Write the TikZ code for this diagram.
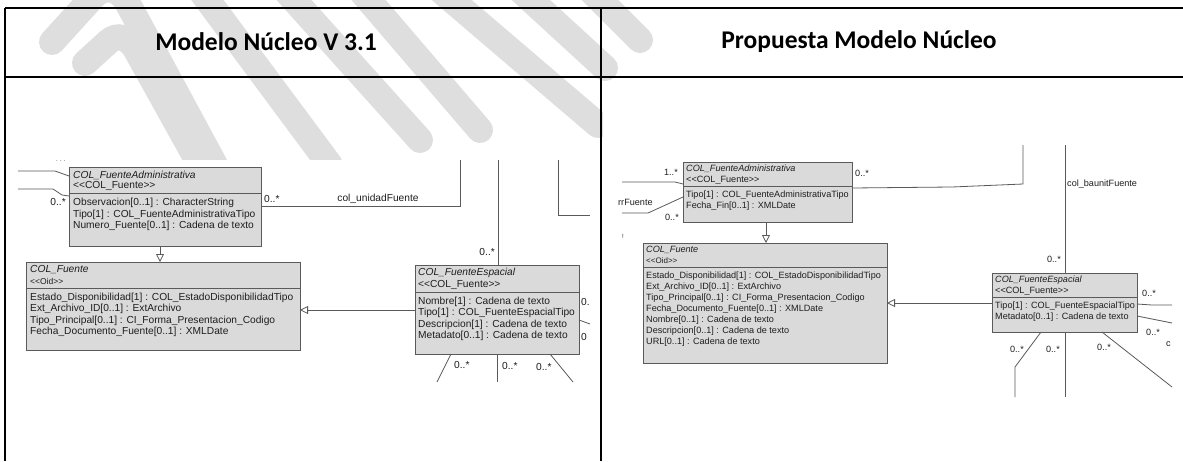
\documentclass[tikz,border=0pt]{standalone}
\usepackage{fontspec}
\setmainfont{Liberation Sans}
\newfontfamily\headfont{Carlito}
\usetikzlibrary{arrows.meta}

\definecolor{boxgray}{HTML}{DADADA}
\definecolor{edgegray}{HTML}{5A5A5A}
\definecolor{markgray}{HTML}{DEDEDE}
\definecolor{inkgray}{HTML}{1E1E1E}

% guillemet-free stereotype brackets
\newcommand{\stereo}[1]{\textless\kern0pt\textless #1\textgreater\kern0pt\textgreater}

\begin{document}
\begin{tikzpicture}[x=1pt, y=-1pt,
    classbox/.style={draw=edgegray, fill=boxgray, line width=0.9pt, anchor=north west, inner sep=0pt, outer sep=0pt},
    sepline/.style={draw=edgegray, line width=0.9pt},
    ltext/.style={font=\fontsize{10.2}{12}\selectfont, text=inkgray, anchor=west, inner sep=0pt},
    ltitle/.style={ltext, font=\fontsize{10.2}{12}\selectfont\itshape},
    rtext/.style={font=\fontsize{9.1}{11}\selectfont, text=inkgray, anchor=west, inner sep=0pt},
    rtitle/.style={rtext, font=\fontsize{9.1}{11}\selectfont\itshape},
    assoc/.style={draw=edgegray, line width=0.8pt},
    inherit/.style={assoc, -{Triangle[open, length=8pt, width=8pt]}},
    tableline/.style={line width=2.2pt, black},
  ]

    \useasboundingbox (0,0) rectangle (1183,461);

    % ==========================================
    % WATERMARK (behind the table)
    % ==========================================
    \begin{scope}[draw=markgray, line width=26pt, line cap=round]
        \draw (52,42) -- (92,-2) .. controls (105,-16) and (118,-12) .. (127,2) -- (215,165);
        \draw (85,63) -- (108,42) .. controls (118,33) and (128,38) .. (135,48) -- (200,165);
        \draw (200,-10) -- (330,165);
        \draw (285,-10) -- (420,140);
        \draw (360,-10) -- (480,130);
        \draw (440,-10) -- (598,125);
        \draw (520,-10) -- (605,68);
        \draw (590,-10) -- (640,40);
    \end{scope}

    % screenshots are opaque
    \fill[white] (8,160) rectangle (599,461);
    \fill[white] (603,90) rectangle (1183,461);

    % ==========================================
    % TABLE
    % ==========================================
    \draw[tableline] (5,8) -- (1183,8);
    \draw[tableline] (5,77) -- (1183,77);
    \draw[tableline] (5,8) -- (5,461);
    \draw[tableline] (601,8) -- (601,461);

    \node[font=\headfont\bfseries\fontsize{25.5}{30}\selectfont] (headL) at (266,42) {Modelo Núcleo V 3.1};
    \node[font=\headfont\bfseries\fontsize{25.5}{30}\selectfont] (headR) at (859,42) {Propuesta Modelo Núcleo};

    % ==========================================
    % LEFT: Modelo Nucleo V 3.1
    % ==========================================

    % COL_FuenteAdministrativa
    \node[classbox, minimum width=192, minimum height=79] (adminL) at (69,167) {};
    \draw[sepline] (adminL.west |- 0,193) -- (adminL.east |- 0,193);
    \node[ltitle] (adminLa) at (73,175) {COL\_FuenteAdministrativa};
    \node[ltext] (adminLb) at (73,186) {\stereo{COL\_Fuente}};
    \node[ltext] (adminLc) at (73,203) {Observacion[0..1] : CharacterString};
    \node[ltext] (adminLd) at (73,214.5) {Tipo[1] : COL\_FuenteAdministrativaTipo};
    \node[ltext] (adminLe) at (73,226) {Numero\_Fuente[0..1] : Cadena de texto};

    % COL_Fuente
    \node[classbox, minimum width=274, minimum height=88] (fuenteL) at (26,262) {};
    \draw[sepline] (fuenteL.west |- 0,288) -- (fuenteL.east |- 0,288);
    \node[ltitle] (fuenteLa) at (30,270) {COL\_Fuente};
    \node[ltext, font=\fontsize{8.5}{10}\selectfont] (fuenteLb) at (30,281) {\stereo{Oid}};
    \node[ltext] (fuenteLc) at (30,297.5) {Estado\_Disponibilidad[1] : COL\_EstadoDisponibilidadTipo};
    \node[ltext] (fuenteLd) at (30,309) {Ext\_Archivo\_ID[0..1] : ExtArchivo};
    \node[ltext] (fuenteLe) at (30,320.5) {Tipo\_Principal[0..1] : CI\_Forma\_Presentacion\_Codigo};
    \node[ltext] (fuenteLf) at (30,332) {Fecha\_Documento\_Fuente[0..1] : XMLDate};

    % COL_FuenteEspacial
    \node[classbox, minimum width=164, minimum height=89] (espL) at (415,265) {};
    \draw[sepline] (espL.west |- 0,292) -- (espL.east |- 0,292);
    \node[ltitle] (espLa) at (418,273) {COL\_FuenteEspacial};
    \node[ltext] (espLb) at (418,285) {\stereo{COL\_Fuente}};
    \node[ltext] (espLc) at (418,301.5) {Nombre[1] : Cadena de texto};
    \node[ltext] (espLd) at (418,313) {Tipo[1] : COL\_FuenteEspacialTipo};
    \node[ltext] (espLe) at (418,324.5) {Descripcion[1] : Cadena de texto};
    \node[ltext] (espLf) at (418,336) {Metadato[0..1] : Cadena de texto};

    % Associations
    \coordinate (inL1) at (18,171);
    \coordinate (inL2) at (18,189);
    \draw[assoc] (inL1) -- (55,171) -- (adminL.west |- 0,176);
    \draw[assoc] (inL2) -- (53,189) -- (62,195) -- (adminL.west |- 0,196);
    \node[ltext, anchor=east] (mulL1) at (66,202) {0..*};
    \node[ltext, font=\fontsize{6}{6}\selectfont] (dotsL) at (56,161) {. . .};

    \coordinate (unidadL) at (460,160);
    \draw[assoc] (adminL.east |- 0,206) -- (unidadL |- 0,206) -- (unidadL);
    \node[ltext] (mulL2) at (264,199) {0..*};
    \node[ltext, anchor=center] (unidadLlbl) at (378,199) {col\_unidadFuente};

    \coordinate (topL) at (498,160);
    \draw[assoc] (topL) -- (topL |- espL.north);
    \node[ltext, anchor=east] (mulL3) at (495,252) {0..*};

    \coordinate (cornerL) at (558,160);
    \coordinate (edgeL) at (590,215);
    \draw[assoc] (cornerL) -- (cornerL |- edgeL) -- (edgeL);

    % Generalizations
    \draw[inherit] (adminL.south -| 160,0) -- (fuenteL.north -| 160,0);
    \draw[inherit] (espL.west |- 0,310) -- (fuenteL.east |- 0,310);

    % right side of COL_FuenteEspacial
    \coordinate (outL1) at (590,324);
    \draw[assoc] (espL.east |- 0,320) -- (outL1);
    \node[ltext] (mulL4) at (581,302) {0.};
    \node[ltext] (mulL5) at (581,337) {0};

    % below COL_FuenteEspacial
    \coordinate (lowL1) at (437,382);
    \coordinate (lowL2) at (497,382);
    \coordinate (lowL3) at (573,382);
    \draw[assoc] (espL.south -| 451,0) -- (lowL1);
    \draw[assoc] (espL.south -| lowL2) -- (lowL2);
    \draw[assoc] (espL.south -| 550,0) -- (lowL3);
    \node[ltext] (mulL6) at (454,365) {0..*};
    \node[ltext] (mulL7) at (502,366) {0..*};
    \node[ltext] (mulL8) at (536,367) {0..*};

    % ==========================================
    % RIGHT: Propuesta Modelo Nucleo
    % ==========================================

    % COL_FuenteAdministrativa
    \node[classbox, minimum width=169, minimum height=60] (adminR) at (683,162) {};
    \draw[sepline] (adminR.west |- 0,186) -- (adminR.east |- 0,186);
    \node[rtitle] (adminRa) at (686,169) {COL\_FuenteAdministrativa};
    \node[rtext] (adminRb) at (686,180) {\stereo{COL\_Fuente}};
    \node[rtext] (adminRc) at (686,195) {Tipo[1] : COL\_FuenteAdministrativaTipo};
    \node[rtext] (adminRd) at (686,206) {Fecha\_Fin[0..1] : XMLDate};

    % COL_Fuente
    \node[classbox, minimum width=244, minimum height=120] (fuenteR) at (643,243) {};
    \draw[sepline] (fuenteR.west |- 0,267) -- (fuenteR.east |- 0,267);
    \node[rtitle] (fuenteRa) at (646,250) {COL\_Fuente};
    \node[rtext, font=\fontsize{8}{9}\selectfont] (fuenteRb) at (646,261) {\stereo{Oid}};
    \node[rtext] (fuenteRc) at (646,276) {Estado\_Disponibilidad[1] : COL\_EstadoDisponibilidadTipo};
    \node[rtext] (fuenteRd) at (646,287) {Ext\_Archivo\_ID[0..1] : ExtArchivo};
    \node[rtext] (fuenteRe) at (646,298) {Tipo\_Principal[0..1] : CI\_Forma\_Presentacion\_Codigo};
    \node[rtext] (fuenteRf) at (646,309) {Fecha\_Documento\_Fuente[0..1] : XMLDate};
    \node[rtext] (fuenteRg) at (646,320) {Nombre[0..1] : Cadena de texto};
    \node[rtext] (fuenteRh) at (646,331) {Descripcion[0..1] : Cadena de texto};
    \node[rtext] (fuenteRi) at (646,342) {URL[0..1] : Cadena de texto};

    % COL_FuenteEspacial
    \node[classbox, minimum width=145, minimum height=59] (espR) at (992,273) {};
    \draw[sepline] (espR.west |- 0,297) -- (espR.east |- 0,297);
    \node[rtitle] (espRa) at (995,280) {COL\_FuenteEspacial};
    \node[rtext] (espRb) at (995,291) {\stereo{COL\_Fuente}};
    \node[rtext] (espRc) at (995,306) {Tipo[1] : COL\_FuenteEspacialTipo};
    \node[rtext] (espRd) at (995,317) {Metadato[0..1] : Cadena de texto};

    % Associations
    \coordinate (inR1) at (622,182);
    \coordinate (inR2) at (622,213);
    \draw[assoc] (inR1) -- (675,182) -- (adminR.west |- 0,184);
    \draw[assoc] (inR2) -- (648,213) -- (adminR.west |- 0,197);
    \node[rtext, anchor=east] (mulR1) at (678,172) {1..*};
    \node[rtext] (rrR) at (618,202) {rrFuente};
    \node[rtext, anchor=east] (mulR2) at (679,217) {0..*};
    \node[rtext, font=\fontsize{6}{6}\selectfont] (tickR) at (622,236) {!};

    \coordinate (unidadR) at (1023,145);
    \draw[assoc] (adminR.east |- 0,188) -- (952,187) -- (unidadR |- 0,184) -- (unidadR);
    \node[rtext] (mulR3) at (855,173) {0..*};

    \coordinate (topR) at (1065,145);
    \draw[assoc] (topR) -- (topR |- espR.north);
    \node[rtext] (baunitR) at (1067,184) {col\_baunitFuente};
    \node[rtext, anchor=east] (mulR4) at (1061,259) {0..*};

    % Generalizations
    \draw[inherit] (adminR.south -| 766,0) -- (fuenteR.north -| 766,0);
    \draw[inherit] (espR.west |- 0,303) -- (fuenteR.east |- 0,303);

    % right side of COL_FuenteEspacial
    \coordinate (outR1) at (1172,305);
    \coordinate (outR2) at (1172,323);
    \draw[assoc] (espR.east |- 0,304) -- (1152,305) -- (outR1);
    \draw[assoc] (espR.east |- 0,316) -- (outR2);
    \node[rtext] (mulR5) at (1142,293) {0..*};
    \node[rtext] (mulR6) at (1146,332) {0..*};
    \node[rtext] (cutR) at (1166,344) {c};

    % below COL_FuenteEspacial
    \coordinate (lowR1) at (1015,397);
    \coordinate (lowR2) at (1065,397);
    \coordinate (lowR3) at (1172,387);
    \draw[assoc] (espR.south -| 1041,0) -- (1015,367) -- (lowR1);
    \draw[assoc] (espR.south -| lowR2) -- (lowR2);
    \draw[assoc] (espR.south -| 1102,0) -- (lowR3);
    \node[rtext, anchor=east] (mulR7) at (1024,349) {0..*};
    \node[rtext, anchor=east] (mulR8) at (1060,349) {0..*};
    \node[rtext] (mulR9) at (1097,347) {0..*};

\end{tikzpicture}
\end{document}
